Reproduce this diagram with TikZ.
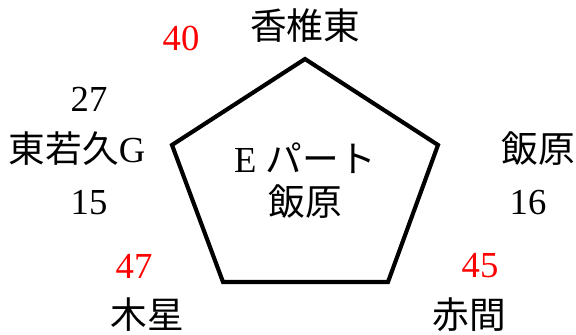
\documentclass[tikz,border=0pt]{standalone}
\usepackage{fontspec}
\setmainfont{Liberation Serif}
\newfontfamily\cjk{Noto Sans CJK JP}
\definecolor{numred}{RGB}{255,0,0}
\tikzset{
  lbl/.style={inner sep=0pt, font=\fontsize{27.5}{32}\selectfont, anchor=center},
  rednum/.style={lbl, text=numred},
  blacknum/.style={lbl, text=black},
  pent/.style={draw=black, line width=3.1pt, line join=miter}
}
\begin{document}
\begin{tikzpicture}[x=0.75pt, y=-0.75pt]
\useasboundingbox (0,0) rectangle (576,335);
% pentagon vertices
\coordinate (pt) at (305,59);
\coordinate (pr) at (438,145);
\coordinate (pbr) at (388,282);
\coordinate (pbl) at (223,282);
\coordinate (pl) at (172,145);
\draw[pent] (pt) -- (pr) -- (pbr) -- (pbl) -- (pl) -- cycle;
% labels
\node[lbl] (top) at (305,26) {\cjk 香椎東};
\node[rednum] (n40) at (181,38) {40};
\node[blacknum] (n27) at (89,99) {27};
\node[lbl] (left) at (77,149) {{\cjk 東若久}G};
\node[blacknum] (n15) at (89,203) {15};
\node[lbl] (right) at (538,149) {\cjk 飯原};
\node[blacknum] (n16) at (528,203) {16};
\node[rednum] (n47) at (134,266) {47};
\node[lbl] (bl) at (147,315) {\cjk 木星};
\node[rednum] (n45) at (480,266) {45};
\node[lbl] (br) at (469,315) {\cjk 赤間};
\node[lbl] (c1) at (305,158) {E\hspace{0.25em}{\cjk パート}};
\node[lbl] (c2) at (305,202) {\cjk 飯原};
\end{tikzpicture}
\end{document}
